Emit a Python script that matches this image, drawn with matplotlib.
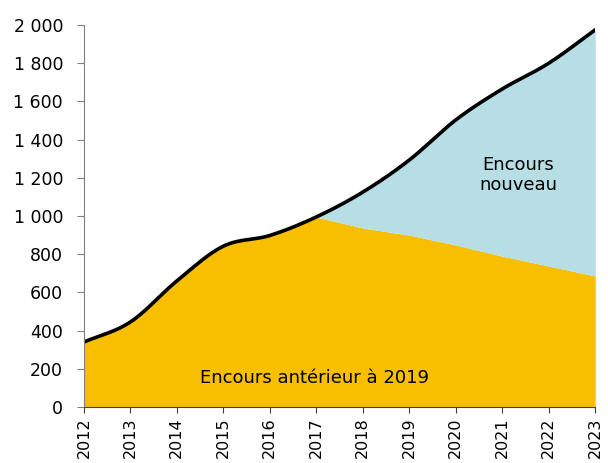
import matplotlib
matplotlib.use("Agg")
import matplotlib.pyplot as plt
import numpy as np

years = [2012, 2013, 2014, 2015, 2016, 2017, 2018, 2019, 2020, 2021, 2022, 2023]
total = [340, 445, 660, 842, 898, 995, 1125, 1293, 1503, 1665, 1800, 1975]
anterieur = [340, 445, 660, 842, 898, 995, 937, 900, 848, 790, 738, 686]

ORANGE = "#F7BF00"
BLUE = "#B7DDE5"


def smooth(x, y, n=40):
    # Catmull-Rom curve through the points, like Excel's smoothed lines
    x = np.asarray(x, float)
    y = np.asarray(y, float)
    px = np.concatenate([[2 * x[0] - x[1]], x, [2 * x[-1] - x[-2]]])
    py = np.concatenate([[2 * y[0] - y[1]], y, [2 * y[-1] - y[-2]]])
    xs, ys = [], []
    t = np.linspace(0, 1, n, endpoint=False)
    for i in range(1, len(px) - 2):
        for p, out in ((px, xs), (py, ys)):
            p0, p1, p2, p3 = p[i - 1], p[i], p[i + 1], p[i + 2]
            out.append(0.5 * (2 * p1 + (-p0 + p2) * t
                              + (2 * p0 - 5 * p1 + 4 * p2 - p3) * t ** 2
                              + (-p0 + 3 * p1 - 3 * p2 + p3) * t ** 3))
    xs.append([x[-1]])
    ys.append([y[-1]])
    return np.concatenate(xs), np.concatenate(ys)


xf, tf = smooth(years, total)
split = years[anterieur.index(max(anterieur))]
af = np.where(xf <= split, tf, np.interp(xf, years, anterieur))

fig = plt.figure(figsize=(6.08, 4.63), dpi=100)
ax = fig.add_axes([0.138, 0.121, 0.841, 0.825])

ax.fill_between(xf, 0, af, color=ORANGE, lw=0)
ax.fill_between(xf, af, tf, color=BLUE, lw=0)
ax.plot(xf, tf, color="black", lw=2.6, solid_capstyle="round")

ax.set_xlim(2012, 2023)
ax.set_ylim(0, 2000)
ax.set_xticks(years)
ax.set_xticklabels([str(y) for y in years], rotation=90, fontsize=11.5)
yt = np.arange(0, 2001, 200)
ax.set_yticks(yt)
ax.set_yticklabels([f"{v:,}".replace(",", " ") for v in yt], fontsize=12.5)

for s in ("top", "right"):
    ax.spines[s].set_visible(False)
ax.spines["left"].set_color("#808080")
ax.spines["bottom"].set_color("#404040")
ax.tick_params(axis="y", length=5, color="#808080", pad=10)
ax.tick_params(axis="x", length=4, color="#404040", pad=3.5)

ax.text(2016.95, 150, "Encours antérieur à 2019", ha="center", va="center", fontsize=13)
ax.text(2021.35, 1215, "Encours\nnouveau", ha="center", va="center", fontsize=13,
        linespacing=1.15)

fig.savefig("out.png", dpi=100)
